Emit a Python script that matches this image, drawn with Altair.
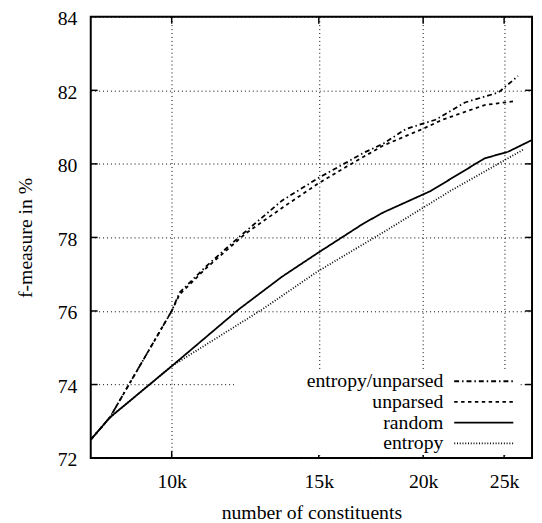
import altair as alt
import pandas as pd

FONT = "Liberation Serif"

series_names = ["entropy/unparsed", "unparsed", "random", "entropy"]

eu_x = [8000, 8430, 10000, 10220, 10980, 12025, 13550, 14940, 16070, 16970, 17920, 19070, 20690, 22440, 24610, 25980]
eu_y = [72.5, 73.1, 76.0, 76.5, 77.2, 78.0, 79.0, 79.6, 80.0, 80.3, 80.55, 80.95, 81.2, 81.67, 81.94, 82.39]

un_x = [8000, 8430, 10000, 10220, 10980, 12250, 13550, 14940, 16200, 17920, 19970, 21090, 23690, 25630]
un_y = [72.5, 73.1, 76.0, 76.45, 77.15, 78.1, 78.8, 79.45, 79.93, 80.5, 80.95, 81.2, 81.6, 81.7]

ra_x = [8000, 8430, 10000, 12025, 13550, 14940, 16970, 17920, 20410, 23690, 25280, 27000]
ra_y = [72.5, 73.1, 74.5, 76.04, 76.93, 77.57, 78.38, 78.68, 79.26, 80.15, 80.33, 80.65]

en_x = [8000, 8430, 10000, 12830, 14940, 17920, 21540, 26410]
en_y = [72.5, 73.1, 74.5, 76.04, 77.07, 78.14, 79.26, 80.4]

x_ticks = [10000, 15000, 20000, 25000]
y_ticks = [72, 74, 76, 78, 80, 82, 84]
inner_y_ticks = [74, 76, 78, 80, 82]

rows = []
for name, xs, ys in zip(series_names, [eu_x, un_x, ra_x, en_x], [eu_y, un_y, ra_y, en_y]):
    for i, (a, b) in enumerate(zip(xs, ys)):
        rows.append({"series": name, "n": a, "f": b, "i": i})
df = pd.DataFrame(rows)

W, H = 448, 448
xscale = alt.Scale(type="log", domain=[8000, 27000], nice=False)
yscale = alt.Scale(domain=[72, 84], nice=False, zero=False)

dash_range = [[5, 3, 1.5, 3], [3.5, 3.5], [1, 0], [1, 1.8]]
width_range = [1.8, 1.8, 2.0, 1.3]

x_axis = alt.Axis(values=x_ticks, labelExpr="datum.value / 1000 + 'k'",
                  grid=True, gridDash=[1, 3], gridColor="black", gridWidth=1, gridOpacity=1,
                  ticks=False, tickSize=0, domain=False,
                  labelPadding=14, titlePadding=11, labelFlush=False)
y_axis = alt.Axis(values=y_ticks, grid=True, gridDash=[1, 3], gridColor="black",
                  gridWidth=1, gridOpacity=1, ticks=False, tickSize=0, domain=False,
                  labelPadding=14, titlePadding=22, labelOffset=2, labelFlush=False)
X_TITLE = "number of constituents"
Y_TITLE = "f-measure in %"

legend = alt.Legend(
    title=None, orient="none", legendX=146, legendY=358,
    symbolType="M-3.53,0H3.53", symbolSize=289, symbolStrokeColor="black",
    symbolOffset=241, labelAlign="right", labelOffset={"expr": "-51"}, padding=2,
    fillColor="white", labelFont=FONT, labelFontSize=20, labelColor="black",
    rowPadding=1, labelLimit=0,
)

lines = alt.Chart(df).mark_line(color="black", clip=True).encode(
    x=alt.X("n:Q", scale=xscale, title=X_TITLE, axis=x_axis),
    y=alt.Y("f:Q", scale=yscale, title=Y_TITLE, axis=y_axis),
    strokeDash=alt.StrokeDash("series:N", scale=alt.Scale(domain=series_names, range=dash_range), legend=legend),
    strokeWidth=alt.StrokeWidth("series:N", scale=alt.Scale(domain=series_names, range=width_range), legend=legend),
    order="i:Q",
)

ydf = pd.DataFrame({"v": inner_y_ticks})
xdf = pd.DataFrame({"v": x_ticks})
tick_len = 7


def yt(x0, x1):
    return alt.Chart(ydf).mark_rule(color="black", strokeWidth=1.5).encode(
        y=alt.Y("v:Q", scale=yscale, title=Y_TITLE, axis=y_axis),
        x=alt.value(x0), x2=alt.value(x1))


def xt(y0, y1):
    return alt.Chart(xdf).mark_rule(color="black", strokeWidth=1.5).encode(
        x=alt.X("v:Q", scale=xscale, title=X_TITLE, axis=x_axis),
        y=alt.value(y0), y2=alt.value(y1))


chart = alt.layer(
    lines, yt(0, tick_len), yt(W - tick_len, W), xt(H - tick_len, H), xt(0, tick_len)
).properties(
    width=W, height=H, background="white",
    autosize=alt.AutoSizeParams(type="none"),
    padding={"left": 84, "top": 5, "right": 2, "bottom": 62},
).configure_view(stroke="black", strokeWidth=2).configure_axis(
    labelFont=FONT, labelFontSize=20, labelColor="black",
    titleFont=FONT, titleFontSize=20, titleColor="black", titleFontWeight="normal",
)

chart.save("out.html", embed_options={"renderer": "svg", "actions": False})
